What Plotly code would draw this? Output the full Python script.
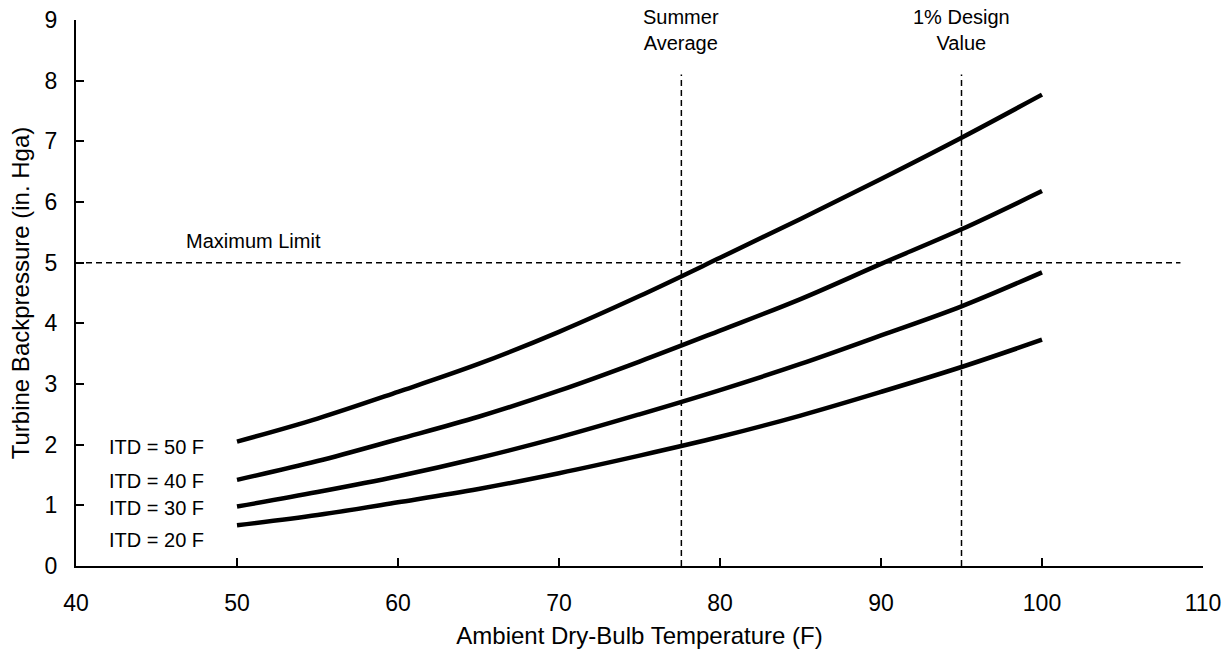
import plotly.graph_objects as go

temps = [50, 55, 60, 65, 70, 75, 80, 85, 90, 95, 100]
itd_50 = [2.05, 2.43, 2.87, 3.33, 3.86, 4.45, 5.08, 5.72, 6.38, 7.06, 7.77]
itd_40 = [1.42, 1.73, 2.09, 2.46, 2.89, 3.37, 3.88, 4.40, 4.98, 5.55, 6.18]
itd_30 = [0.98, 1.22, 1.48, 1.78, 2.12, 2.50, 2.90, 3.33, 3.80, 4.28, 4.84]
itd_20 = [0.67, 0.84, 1.05, 1.27, 1.53, 1.82, 2.13, 2.48, 2.87, 3.28, 3.73]
series_labels = ["ITD = 50 F", "ITD = 40 F", "ITD = 30 F", "ITD = 20 F"]
label_y = [1.96, 1.40, 0.96, 0.43]

summer_avg_x = 77.6
design_x = 95.0
max_limit_y = 5.0
vline_top = 8.1
hline_x = [40, 108.6]

FONT = "Liberation Sans, Arial, sans-serif"

fig = go.Figure()
for ys, name in zip([itd_50, itd_40, itd_30, itd_20], series_labels):
    fig.add_trace(go.Scatter(x=temps, y=ys, mode="lines", name=name,
                             line=dict(color="black", width=4.5, shape="spline"),
                             showlegend=False, hoverinfo="skip"))

dash = "6px,4px"
fig.add_trace(go.Scatter(x=hline_x, y=[max_limit_y, max_limit_y], mode="lines",
                         line=dict(color="black", width=1.5, dash=dash), showlegend=False))
for vx in [summer_avg_x, design_x]:
    fig.add_trace(go.Scatter(x=[vx, vx], y=[0, vline_top], mode="lines",
                             line=dict(color="black", width=1.5, dash=dash), showlegend=False))

ann_font = dict(size=20, color="black", family=FONT)
for txt, ly in zip(series_labels, label_y):
    fig.add_annotation(x=45, y=ly, text=txt, showarrow=False, font=ann_font)

fig.add_annotation(x=51.0, y=5.36, text="Maximum Limit", showarrow=False, font=ann_font)
fig.add_annotation(x=summer_avg_x, y=8.83, text="Summer<br>Average", showarrow=False, font=ann_font)
fig.add_annotation(x=design_x, y=8.83, text="1% Design<br>Value", showarrow=False, font=ann_font)

axis_common = dict(showline=True, linecolor="black", linewidth=2, ticks="inside",
                   ticklen=8, tickwidth=2, tickcolor="black", showgrid=False,
                   zeroline=False, automargin=False,
                   tickfont=dict(size=23, color="black", family=FONT))

fig.update_xaxes(range=[40, 110], dtick=10, tick0=40, ticklabelstandoff=15,
                 title=dict(text="Ambient Dry-Bulb Temperature (F)", standoff=13,
                            font=dict(size=24, color="black", family=FONT)),
                 **axis_common)
fig.update_yaxes(range=[0, 9], dtick=1, tick0=0, ticklabelstandoff=12,
                 title=dict(text="Turbine Backpressure (in. Hga)", standoff=8,
                            font=dict(size=24, color="black", family=FONT)),
                 **axis_common)

fig.update_layout(width=1230, height=658, paper_bgcolor="white", plot_bgcolor="white",
                  margin=dict(l=76, r=27, t=20, b=92), showlegend=False)

fig.write_html("out.html", config={"displayModeBar": False},
               post_script="document.body.style.margin='0';document.body.style.overflow='hidden';")
